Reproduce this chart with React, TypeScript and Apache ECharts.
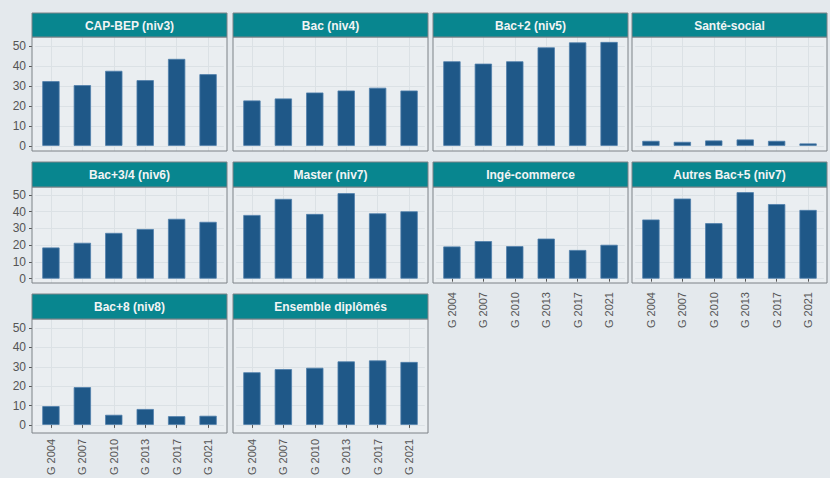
import React, { useEffect, useRef } from "react";
import * as echarts from "echarts";

const categories = ["G 2004", "G 2007", "G 2010", "G 2013", "G 2017", "G 2021"];
const panelTitles = [
  "CAP-BEP (niv3)",
  "Bac (niv4)",
  "Bac+2 (niv5)",
  "Santé-social",
  "Bac+3/4 (niv6)",
  "Master (niv7)",
  "Ingé-commerce",
  "Autres Bac+5 (niv7)",
  "Bac+8 (niv8)",
  "Ensemble diplômés",
];
const capBep = [32.5, 30.5, 37.7, 33, 43.7, 36];
const bac = [22.8, 23.8, 26.8, 27.8, 29.2, 27.8];
const bac2 = [42.5, 41.3, 42.5, 49.5, 52, 52.2];
const santeSocial = [2.5, 2, 2.7, 3.2, 2.5, 1.2];
const bac34 = [18.6, 21.4, 27.3, 29.6, 35.7, 33.9];
const master = [38, 47.6, 38.6, 51, 39, 40.2];
const ingeCommerce = [19.2, 22.4, 19.4, 23.9, 17.1, 20.2];
const autresBac5 = [35.3, 47.8, 33.1, 51.6, 44.5, 41];
const bac8 = [9.7, 19.5, 5.2, 8.2, 4.5, 4.7];
const ensemble = [27.2, 28.8, 29.5, 32.8, 33.3, 32.5];
const yTicks = [0, 10, 20, 30, 40, 50];

const panelValues = [capBep, bac, bac2, santeSocial, bac34, master, ingeCommerce, autresBac5, bac8, ensemble];

const COL_LEFT = [32, 233, 433, 632];
const PANEL_W = 195;
const ROWS = [
  { head: 13, top: 37, bottom: 151 },
  { head: 162, top: 187, bottom: 283 },
  { head: 294, top: 319, bottom: 433 },
];
const INSET = 3.2;
const BG = "#e4e9ed";
const PANEL_BG = "#eaeef1";
const TEAL = "#08868f";
const BORDER = "#7d8287";
const BAR = "#1f5888";
const GRIDLINE = "#dbe1e5";
const FONT = "Liberation Sans, Arial, sans-serif";

export default function App() {
  const ref = useRef<HTMLDivElement>(null);
  useEffect(() => {
    if (!ref.current) return;
    const chart = echarts.init(ref.current, null, { renderer: "svg" });
    const grids: any[] = [];
    const xAxes: any[] = [];
    const yAxes: any[] = [];
    const series: any[] = [];
    const graphics: any[] = [];
    panelTitles.forEach((title, i) => {
      const r = ROWS[Math.floor(i / 4)];
      const c = i % 4;
      const left = COL_LEFT[c];
      const showX = i >= 6;
      const showY = c === 0;
      grids.push({
        left: left + INSET,
        top: r.top,
        width: PANEL_W - 2 * INSET,
        height: r.bottom - r.top,
        containLabel: false,
      });
      xAxes.push({
        type: "category",
        gridIndex: i,
        data: categories,
        boundaryGap: true,
        axisLine: { show: false },
        axisTick: {
          show: showX,
          alignWithLabel: true,
          interval: 0,
          length: 3,
          lineStyle: { color: "#555" },
        },
        axisLabel: {
          show: showX,
          interval: 0,
          rotate: 90,
          margin: 9,
          color: "#555",
          fontSize: 11,
          fontFamily: FONT,
        },
        splitLine: {
          show: true,
          alignWithLabel: true,
          interval: 0,
          lineStyle: { color: GRIDLINE, width: 1 },
        },
      });
      yAxes.push({
        type: "value",
        gridIndex: i,
        min: -2.6,
        max: 54.7,
        offset: INSET,
        axisLine: { show: false },
        axisTick: {
          show: showY,
          customValues: yTicks,
          length: 3,
          lineStyle: { color: "#555" },
        },
        axisLabel: {
          show: showY,
          customValues: yTicks,
          margin: 6,
          color: "#555",
          fontSize: 12,
          fontFamily: FONT,
        },
        splitLine: { show: true, lineStyle: { color: GRIDLINE, width: 1 } },
      });
      series.push({
        type: "bar",
        name: title,
        xAxisIndex: i,
        yAxisIndex: i,
        data: panelValues[i],
        barWidth: "55%",
        itemStyle: { color: BAR, borderColor: "#4f7fab", borderWidth: 0.8 },
      });
      graphics.push({
        type: "rect",
        z: -10,
        shape: { x: left, y: r.top, width: PANEL_W, height: r.bottom - r.top },
        style: { fill: PANEL_BG },
        silent: true,
      });
      graphics.push({
        type: "rect",
        z: 50,
        shape: { x: left, y: r.top, width: PANEL_W, height: r.bottom - r.top },
        style: { fill: "transparent", stroke: BORDER, lineWidth: 1 },
        silent: true,
      });
      graphics.push({
        type: "rect",
        z: 50,
        shape: { x: left, y: r.head, width: PANEL_W, height: r.top - r.head },
        style: { fill: TEAL, stroke: BORDER, lineWidth: 1 },
        silent: true,
      });
      graphics.push({
        type: "text",
        z: 51,
        x: left + PANEL_W / 2,
        y: (r.head + r.top) / 2 + 0.5,
        style: {
          text: title,
          fill: "#f2f4f5",
          font: `bold 12px ${FONT}`,
          textAlign: "center",
          textVerticalAlign: "middle",
        },
        silent: true,
      });
    });
    chart.setOption({
      animation: false,
      backgroundColor: BG,
      grid: grids,
      xAxis: xAxes,
      yAxis: yAxes,
      series,
      graphic: { elements: graphics },
    });
    return () => chart.dispose();
  }, []);
  return (
    <div
      ref={ref}
      style={{ position: "fixed", left: 0, top: 0, width: 830, height: 478, background: BG }}
    />
  );
}
